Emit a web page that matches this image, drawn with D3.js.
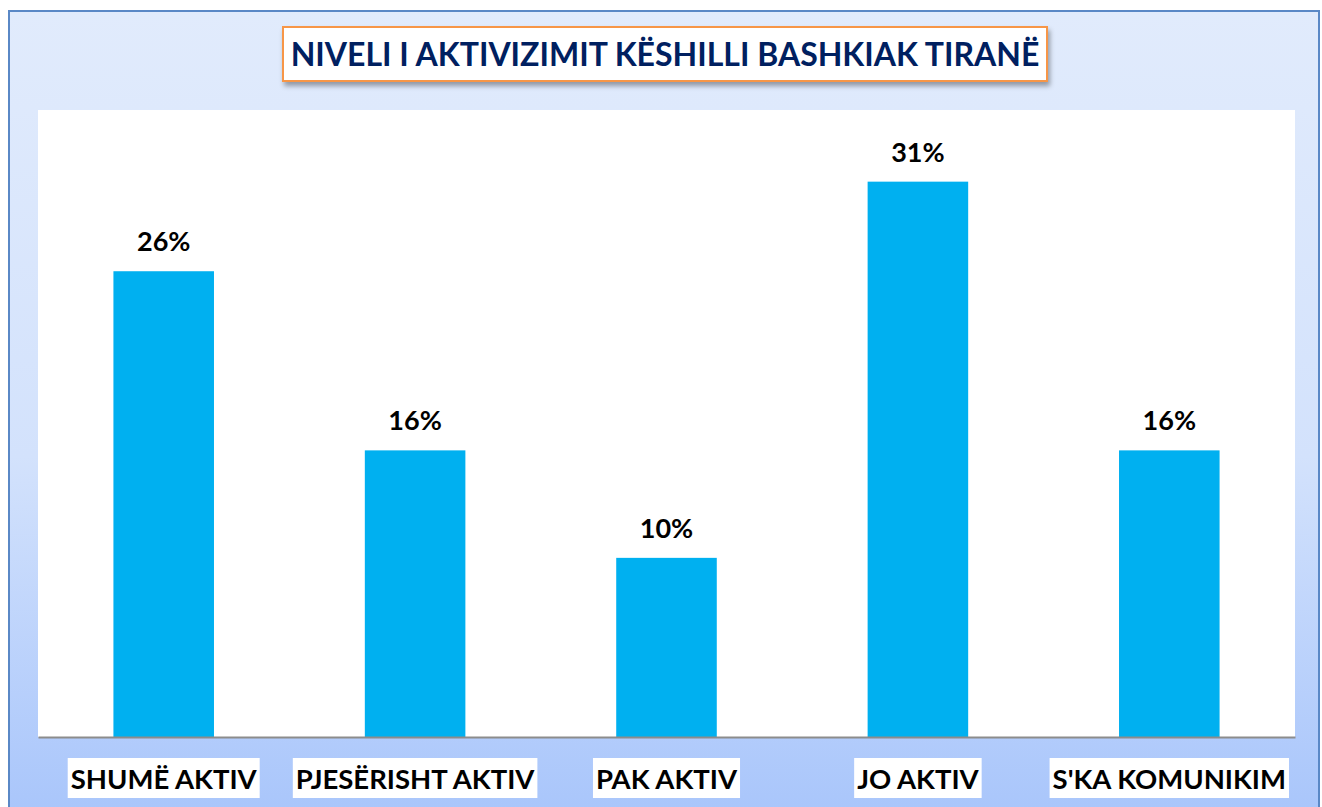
<!DOCTYPE html>
<html>
<head>
<meta charset="utf-8">
<script src="https://cdn.jsdelivr.net/npm/d3@7"></script>
<style>
  body { margin: 0; background: #fff; }
  svg { display: block; }
</style>
</head>
<body>
<div id="chart"></div>
<script>
// data
const categories = ["SHUMË AKTIV", "PJESËRISHT AKTIV", "PAK AKTIV", "JO AKTIV", "S'KA KOMUNIKIM"];
const values = [26, 16, 10, 31, 16];
const title = "NIVELI I AKTIVIZIMIT KËSHILLI BASHKIAK TIRANË";

const W = 1322, H = 807;
const font = "Lato, 'Open Sans', sans-serif";

const svg = d3.select("#chart").append("svg")
  .attr("width", W)
  .attr("height", H);

const defs = svg.append("defs");
const grad = defs.append("linearGradient")
  .attr("id", "bg").attr("x1", 0).attr("y1", 0).attr("x2", 0).attr("y2", 1);
grad.append("stop").attr("offset", "0%").attr("stop-color", "#E1EBFC");
grad.append("stop").attr("offset", "55%").attr("stop-color", "#D3E2FC");
grad.append("stop").attr("offset", "100%").attr("stop-color", "#A8C5FB");

const shadow = defs.append("filter").attr("id", "shadow")
  .attr("x", "-10%").attr("y", "-30%").attr("width", "120%").attr("height", "170%");
shadow.append("feDropShadow")
  .attr("dx", 2).attr("dy", 4).attr("stdDeviation", 2.5)
  .attr("flood-color", "#000").attr("flood-opacity", 0.35);

// outer frame
svg.append("rect")
  .attr("x", 9).attr("y", 11)
  .attr("width", 1310).attr("height", 810)
  .attr("fill", "url(#bg)")
  .attr("stroke", "#5A88C6")
  .attr("stroke-width", 2);

// plot area
const margin = { top: 110, right: 27, bottom: 70, left: 38 };
const plotW = W - margin.left - margin.right;
const plotH = H - margin.top - margin.bottom;

const g = svg.append("g")
  .attr("transform", "translate(" + margin.left + "," + margin.top + ")");

g.append("rect")
  .attr("width", plotW).attr("height", plotH)
  .attr("fill", "#fff");

const x = d3.scaleBand()
  .domain(categories)
  .range([0, plotW])
  .paddingInner(0.6)
  .paddingOuter(0.3);

const y = d3.scaleLinear()
  .domain([0, 35])
  .range([plotH, 0]);

g.selectAll(".bar")
  .data(values)
  .enter().append("rect")
  .attr("class", "bar")
  .attr("x", (d, i) => x(categories[i]))
  .attr("y", d => y(d))
  .attr("width", x.bandwidth())
  .attr("height", d => plotH - y(d))
  .attr("fill", "#00B0F0");

g.selectAll(".val")
  .data(values)
  .enter().append("text")
  .attr("class", "val")
  .attr("x", (d, i) => x(categories[i]) + x.bandwidth() / 2)
  .attr("y", d => y(d) - 20)
  .attr("text-anchor", "middle")
  .style("font-family", font)
  .style("font-weight", "bold")
  .style("font-size", "27px")
  .attr("fill", "#000")
  .text(d => d + "%");

// x axis
const xAxis = g.append("g")
  .attr("transform", "translate(0," + plotH + ")")
  .call(d3.axisBottom(x).tickSize(0).tickPadding(0));
xAxis.select(".domain").attr("stroke", "#8c8c8c").attr("stroke-width", 2);
xAxis.selectAll(".tick text").remove();

const labels = xAxis.selectAll(".tick").append("g");
labels.append("text")
  .attr("y", 52)
  .attr("text-anchor", "middle")
  .style("font-family", font)
  .style("font-weight", "bold")
  .style("font-size", "27.5px")
  .attr("fill", "#000")
  .text(d => d);
labels.each(function () {
  const t = d3.select(this).select("text");
  const w = t.node().getComputedTextLength();
  d3.select(this).insert("rect", "text")
    .attr("x", -w / 2 - 3).attr("y", 21)
    .attr("width", w + 6).attr("height", 40)
    .attr("fill", "#fff");
});

// title box
const titleG = svg.append("g");
titleG.append("rect")
  .attr("x", 283).attr("y", 27)
  .attr("width", 764).attr("height", 54)
  .attr("fill", "#fff")
  .attr("stroke", "#F79646")
  .attr("stroke-width", 2)
  .attr("filter", "url(#shadow)");
titleG.append("text")
  .attr("x", 665).attr("y", 66)
  .attr("text-anchor", "middle")
  .style("font-family", font)
  .style("font-weight", "bold")
  .style("font-size", "32px")
  .attr("fill", "#002060")
  .text(title);
</script>
</body>
</html>
